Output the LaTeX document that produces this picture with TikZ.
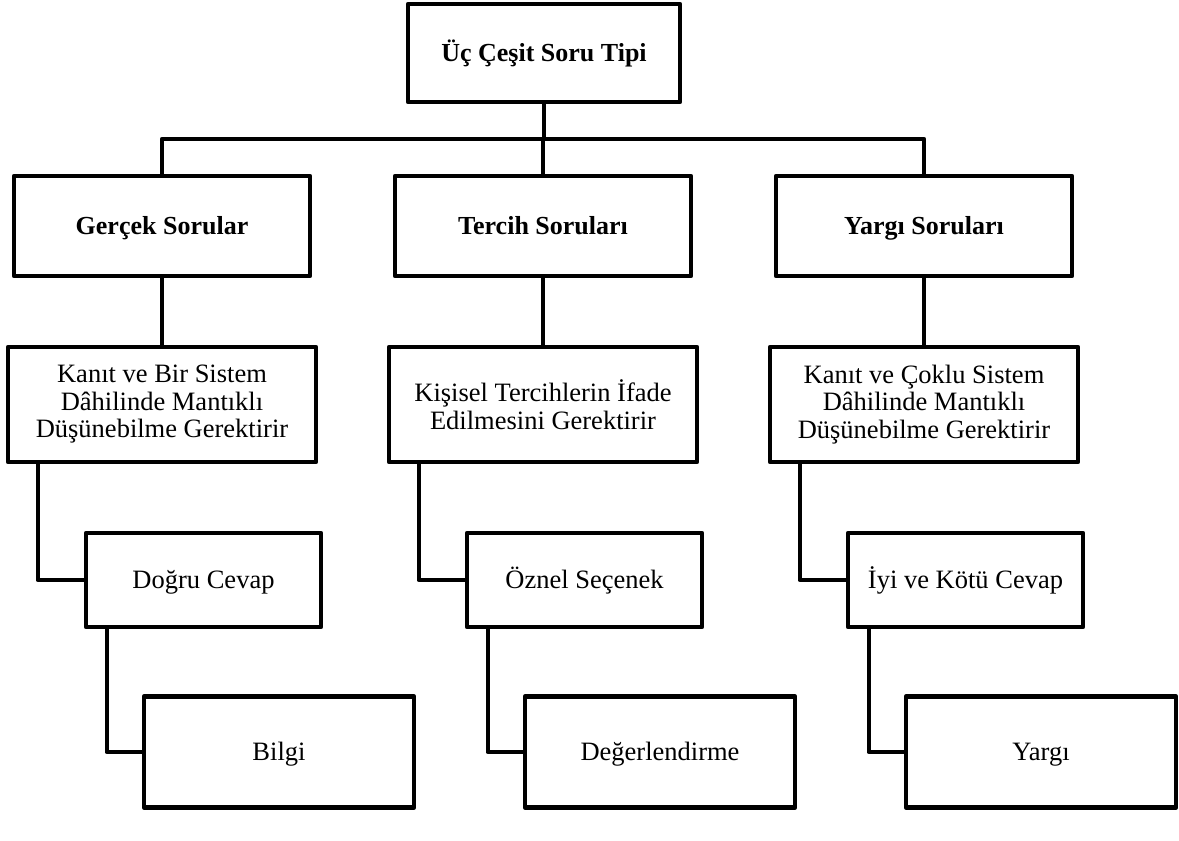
\documentclass[tikz,border=0pt]{standalone}
\usepackage{fontspec}
\setmainfont{Liberation Serif}
\usetikzlibrary{positioning}

\begin{document}
\begin{tikzpicture}
[x=1pt,y=1pt,
kutu/.style={draw=black,line width=4.5pt,line join=round,align=center,inner sep=0pt,font=\fontsize{26.5}{27.5}\selectfont},
tek/.style={text height=20pt,text depth=3pt},
ust/.style={kutu,tek,minimum width=272pt,minimum height=98pt,font=\bfseries\fontsize{26}{27.5}\selectfont},
tur/.style={kutu,tek,minimum width=296pt,minimum height=100pt,font=\bfseries\fontsize{26}{27.5}\selectfont},
gerek/.style={kutu,minimum width=308pt,minimum height=115pt},
cevap/.style={kutu,tek,minimum width=235pt,minimum height=94pt},
sonuc/.style={kutu,tek,minimum width=270pt,minimum height=111pt},
hat/.style={line width=4.5pt,line join=round}]
\useasboundingbox (0,0) rectangle (1179,-841);

\node[ust] (tip) at (544,-53) {Üç Çeşit Soru Tipi};

\node[tur] (gercek) at (162,-226) {Gerçek Sorular};
\node[tur] (tercih) at (543,-226) {Tercih Soruları};
\node[tur] (yargi) at (924,-226) {Yargı Soruları};

\node[gerek] (kanit) at (162,-404.5) {Kanıt ve Bir Sistem\\Dâhilinde Mantıklı\\Düşünebilme Gerektirir};
\node[gerek] (kisisel) at (543,-404.5) {Kişisel Tercihlerin İfade\\Edilmesini Gerektirir};
\node[gerek] (coklu) at (924,-404.5) {Kanıt ve Çoklu Sistem\\Dâhilinde Mantıklı\\Düşünebilme Gerektirir};

\node[cevap] (dogru) at (203.5,-580) {Doğru Cevap};
\node[cevap] (oznel) at (584.5,-580) {Öznel Seçenek};
\node[cevap] (iyi) at (965.5,-580) {İyi ve Kötü Cevap};

\node[sonuc] (bilgi) at (279,-752) {Bilgi};
\node[sonuc] (deger) at (660,-752) {Değerlendirme};
\node[sonuc] (yargi2) at (1041,-752) {Yargı};

\coordinate (bus) at (543,-139);

\draw [hat] (tip) -- (tip|-bus);
\draw [hat] (gercek.north) |- (bus) -| (yargi.north);
\draw [hat] (bus) -- (tercih.north);

\draw [hat] (gercek) -- (kanit);
\draw [hat] (tercih) -- (kisisel);
\draw [hat] (yargi) -- (coklu);

\draw [hat] ([xshift=32pt]kanit.south west) |- (dogru.west);
\draw [hat] ([xshift=32pt]kisisel.south west) |- (oznel.west);
\draw [hat] ([xshift=32pt]coklu.south west) |- (iyi.west);

\draw [hat] ([xshift=23pt]dogru.south west) |- (bilgi.west);
\draw [hat] ([xshift=23pt]oznel.south west) |- (deger.west);
\draw [hat] ([xshift=23pt]iyi.south west) |- (yargi2.west);
\end{tikzpicture}
\end{document}
